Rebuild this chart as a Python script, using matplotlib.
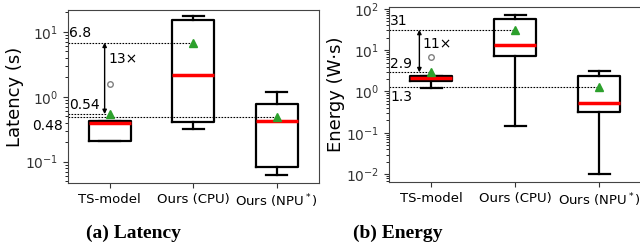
import numpy as np
import matplotlib
matplotlib.use('Agg')
import matplotlib.pyplot as plt

labels = ['TS-model', 'Ours (CPU)', 'Ours (NPU$^*$)']

# latency (s)
lat_whislo = [0.21, 0.32, 0.062]
lat_q1 = [0.21, 0.41, 0.084]
lat_med = [0.40, 2.18, 0.43]
lat_q3 = [0.43, 15.1, 0.76]
lat_whishi = [0.43, 17.6, 1.19]
lat_mean = [0.54, 6.8, 0.48]
lat_fliers = [[1.55], [], []]

# energy (W*s)
en_whislo = [1.24, 0.146, 0.01]
en_q1 = [1.78, 7.4, 0.32]
en_med = [2.15, 13.0, 0.54]
en_q3 = [2.32, 57.0, 2.35]
en_whishi = [2.32, 72.0, 3.06]
en_mean = [2.9, 31.0, 1.3]
en_fliers = [[7.0], [], []]


def make_stats(lo, q1, med, q3, hi, mean, fl):
    out = []
    for i in range(len(lo)):
        out.append(dict(whislo=lo[i], q1=q1[i], med=med[i], q3=q3[i],
                        whishi=hi[i], mean=mean[i], fliers=fl[i]))
    return out


def draw(ax, stats):
    ax.bxp(stats, showmeans=True, widths=0.5,
           boxprops=dict(color='black', linewidth=1.6),
           whiskerprops=dict(color='black', linewidth=1.6),
           capprops=dict(color='black', linewidth=1.6),
           medianprops=dict(color='red', linewidth=2.5),
           meanprops=dict(marker='^', markerfacecolor='#2ca02c',
                          markeredgecolor='#2ca02c', markersize=6),
           flierprops=dict(marker='o', markerfacecolor='none',
                           markeredgecolor='gray', markersize=4))
    ax.set_yscale('log')
    ax.set_xlim(0.5, 3.5)
    ax.set_xticks([1, 2, 3])
    ax.set_xticklabels(labels, fontsize=9.5)
    ax.tick_params(axis='both', colors='#333333', labelsize=10)
    ax.tick_params(axis='x', colors='#333333', labelcolor='black', labelsize=9.5)
    for s in ax.spines.values():
        s.set_color('#444444')
        s.set_linewidth(0.8)


fig = plt.figure(figsize=(6.4, 2.5), dpi=100)
ax1 = fig.add_axes([0.106, 0.268, 0.392, 0.692])
ax2 = fig.add_axes([0.608, 0.272, 0.394, 0.70])

dot = (0, (1.5, 1.2))

# ---- latency
draw(ax1, make_stats(lat_whislo, lat_q1, lat_med, lat_q3, lat_whishi, lat_mean, lat_fliers))
ax1.set_ylim(0.047, 21.6)
ax1.set_ylabel('Latency (s)', fontsize=13, labelpad=1)
ax1.hlines(lat_mean[1], 0.5, 2, colors='black', linestyles=dot, lw=0.8)
ax1.hlines(lat_mean[0], 0.5, 0.97, colors='black', linestyles=dot, lw=0.8)
ax1.hlines(lat_mean[2], 0.5, 3, colors='black', linestyles=dot, lw=0.8)
ax1.text(0.51, lat_mean[1] * 1.08, '6.8', fontsize=10, va='bottom', ha='left')
ax1.text(0.51, lat_mean[0] * 1.07, '0.54', fontsize=10, va='bottom', ha='left')
ax1.text(-0.02, 0.455, '0.48', fontsize=10, va='top', ha='right',
         transform=ax1.get_yaxis_transform())
ax1.annotate('', xy=(0.94, lat_mean[0]), xytext=(0.94, lat_mean[1]),
             arrowprops=dict(arrowstyle='<|-|>', color='black', lw=1,
                             mutation_scale=6, shrinkA=0, shrinkB=0))
ax1.text(0.98, 3.8, '13×', fontsize=10, va='center', ha='left')

# ---- energy
draw(ax2, make_stats(en_whislo, en_q1, en_med, en_q3, en_whishi, en_mean, en_fliers))
ax2.set_ylim(0.0065, 110)
ax2.set_ylabel('Energy (W·s)', fontsize=13, labelpad=1)
ax2.hlines(en_mean[1], 0.5, 2, colors='black', linestyles=dot, lw=0.8)
ax2.hlines(en_mean[0], 0.5, 1, colors='black', linestyles=dot, lw=0.8)
ax2.hlines(en_mean[2], 0.5, 3, colors='black', linestyles=dot, lw=0.8)
ax2.text(0.51, en_mean[1] * 1.1, '31', fontsize=10, va='bottom', ha='left')
ax2.text(0.51, en_mean[0] * 1.08, '2.9', fontsize=10, va='bottom', ha='left')
ax2.text(0.51, en_mean[2] * 0.85, '1.3', fontsize=10, va='top', ha='left')
ax2.annotate('', xy=(0.86, en_mean[0]), xytext=(0.86, en_mean[1]),
             arrowprops=dict(arrowstyle='<|-|>', color='black', lw=1,
                             mutation_scale=6, shrinkA=0, shrinkB=0))
ax2.text(0.9, 14.3, '11×', fontsize=10, va='center', ha='left')

fig.text(133 / 640, 1 - 233 / 250, '(a) Latency', ha='center', va='center',
         family='Liberation Serif', weight='bold', fontsize=14)
fig.text(398 / 640, 1 - 233 / 250, '(b) Energy', ha='center', va='center',
         family='Liberation Serif', weight='bold', fontsize=14)

fig.savefig('out.png', dpi=100)
